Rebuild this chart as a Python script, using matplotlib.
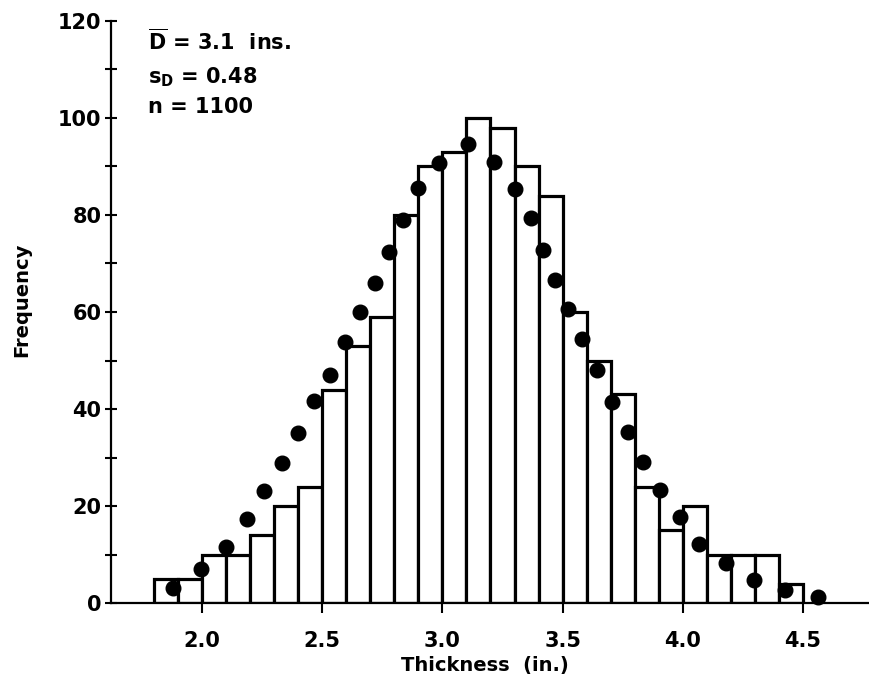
import matplotlib
matplotlib.use("Agg")
import matplotlib.pyplot as plt

# histogram of thickness, bins of 0.1 in. starting at 1.8
bin_left = [1.8, 1.9, 2.0, 2.1, 2.2, 2.3, 2.4, 2.5, 2.6, 2.7, 2.8, 2.9, 3.0, 3.1,
            3.2, 3.3, 3.4, 3.5, 3.6, 3.7, 3.8, 3.9, 4.0, 4.1, 4.2, 4.3, 4.4]
freq = [5, 5, 10, 10, 14, 20, 24, 44, 53, 59, 80, 90, 93, 100,
        98, 90, 84, 60, 50, 43, 24, 15, 20, 10, 10, 10, 4]

# fitted normal curve, drawn as a row of dots
curve_x = [1.879, 1.996, 2.100, 2.187, 2.258, 2.333, 2.399, 2.466, 2.532, 2.595,
           2.657, 2.720, 2.778, 2.836, 2.899, 2.986, 3.106, 3.215, 3.302, 3.369,
           3.418, 3.468, 3.522, 3.581, 3.643, 3.706, 3.772, 3.834, 3.905, 3.988,
           4.067, 4.180, 4.296, 4.425, 4.562]
curve_y = [3.1, 7.0, 11.5, 17.3, 23.1, 28.9, 35.1, 41.6, 47.0, 53.8,
           60.0, 66.0, 72.4, 79.0, 85.6, 90.7, 94.6, 90.9, 85.4, 79.4,
           72.8, 66.6, 60.6, 54.4, 48.0, 41.4, 35.3, 29.1, 23.3, 17.7,
           12.2, 8.2, 4.7, 2.7, 1.2]

x_ticks = [2.0, 2.5, 3.0, 3.5, 4.0, 4.5]
y_ticks = [0, 20, 40, 60, 80, 100, 120]

plt.rcParams["font.family"] = "DejaVu Sans"
plt.rcParams["font.weight"] = "bold"
plt.rcParams["mathtext.fontset"] = "dejavusans"

W, H = 869, 685
fig = plt.figure(figsize=(W / 100, H / 100), dpi=100)
ax = fig.add_axes([111 / W, 82 / H, 758 / W, 582 / H])

ax.bar(bin_left, freq, width=0.1, align="edge", facecolor="white",
       edgecolor="black", linewidth=2.3, zorder=2)
ax.plot(curve_x, curve_y, "o", color="black", markersize=10.5, zorder=3,
        clip_on=False)

ax.set_xlim(1.6215, 4.7745)
ax.set_ylim(0, 120)

for side in ["top", "right"]:
    ax.spines[side].set_visible(False)
for side in ["left", "bottom"]:
    ax.spines[side].set_linewidth(1.6)

ax.set_xticks(x_ticks)
ax.set_xticklabels([f"{t:.1f}" for t in x_ticks])
ax.set_yticks(y_ticks)
ax.set_yticks([10, 30, 50, 70, 90, 110], minor=True)
ax.tick_params(axis="x", direction="out", length=7, width=1.5, pad=13,
               labelsize=15)
ax.tick_params(axis="y", which="both", direction="inout", length=8, width=1.5,
               pad=3, labelsize=15)

fig.text(22 / W, 1 - 300 / H, "Frequency", rotation=90, ha="center",
         va="center", fontsize=14, fontweight="bold")
fig.text(485 / W, 1 - 665 / H, "Thickness  (in.)", ha="center", va="center",
         fontsize=14, fontweight="bold")

# summary statistics, upper left
ax.text(0.049, 0.950, r"$\overline{\mathbf{D}}$ = 3.1  ins.", transform=ax.transAxes,
        fontsize=15, fontweight="bold", va="baseline")
ax.text(0.049, 0.892, r"$\mathbf{s_D}$ = 0.48", transform=ax.transAxes,
        fontsize=15, fontweight="bold", va="baseline")
ax.text(0.049, 0.842, "n = 1100", transform=ax.transAxes,
        fontsize=15, fontweight="bold", va="baseline")

fig.savefig("out.png", dpi=100)
